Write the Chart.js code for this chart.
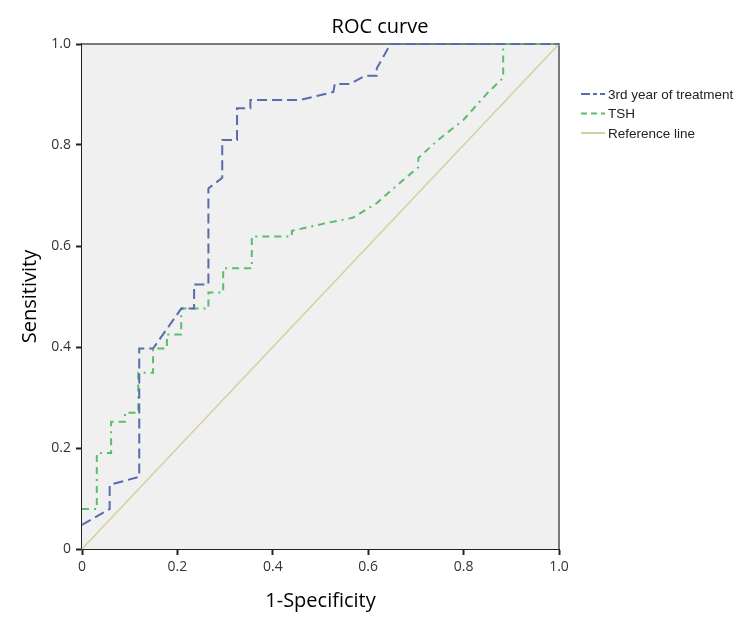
<!DOCTYPE html>
<html>
<head>
<meta charset="utf-8">
<script src="https://cdn.jsdelivr.net/npm/chart.js@4/dist/chart.umd.min.js"></script>
<style>
  html, body { margin: 0; padding: 0; background: #fff; }
  #wrap { width: 750px; height: 633px; }
</style>
</head>
<body>
<div id="wrap"><canvas id="chart" width="750" height="633"></canvas></div>
<script>
// ROC curve points (1-specificity, sensitivity)
let yearX = [0, 0.058, 0.058, 0.12, 0.12, 0.149, 0.208, 0.235, 0.235, 0.265, 0.265, 0.294, 0.294, 0.325, 0.325, 0.353, 0.353, 0.457, 0.527, 0.53, 0.562, 0.593, 0.618, 0.618, 0.647, 1];
let yearY = [0.048, 0.079, 0.127, 0.143, 0.397, 0.397, 0.476, 0.476, 0.524, 0.524, 0.714, 0.735, 0.81, 0.81, 0.873, 0.873, 0.889, 0.889, 0.905, 0.921, 0.921, 0.937, 0.937, 0.952, 1, 1];

let tshX = [0, 0.031, 0.031, 0.061, 0.061, 0.09, 0.09, 0.118, 0.118, 0.149, 0.149, 0.178, 0.178, 0.208, 0.208, 0.265, 0.265, 0.296, 0.296, 0.356, 0.356, 0.44, 0.44, 0.51, 0.568, 0.618, 0.66, 0.705, 0.705, 0.744, 0.8, 0.85, 0.883, 0.883, 1];
let tshY = [0.079, 0.079, 0.19, 0.19, 0.252, 0.252, 0.27, 0.27, 0.349, 0.349, 0.397, 0.397, 0.425, 0.425, 0.476, 0.476, 0.508, 0.508, 0.556, 0.556, 0.619, 0.619, 0.63, 0.645, 0.656, 0.685, 0.72, 0.756, 0.774, 0.808, 0.85, 0.903, 0.933, 1, 1];

let refX = [0, 1];
let refY = [0, 1];

let seriesNames = ['3rd year of treatment', 'TSH', 'Reference line'];
let tickValues = [0, 0.2, 0.4, 0.6, 0.8, 1.0];

function pts(xs, ys) {
    return xs.map((x, i) => ({ x: x, y: ys[i] }));
}

function tickLabel(v) {
    return v === 0 ? '0' : v.toFixed(1);
}

// plot background, frame, title and legend
let decor = {
    id: 'decor',
    beforeDatasetsDraw(chart) {
        let a = chart.chartArea;
        let c = chart.ctx;
        c.save();
        c.fillStyle = '#f0f0f0';
        c.fillRect(a.left, a.top, a.right - a.left, a.bottom - a.top);
        c.strokeStyle = '#7a7a7a';
        c.lineWidth = 2;
        c.beginPath();
        c.moveTo(a.left, a.top);
        c.lineTo(a.right, a.top);
        c.lineTo(a.right, a.bottom);
        c.stroke();
        c.restore();
    },
    afterDraw(chart) {
        let c = chart.ctx;
        c.save();
        c.fillStyle = '#000';
        c.font = '20px "Open Sans"';
        c.textAlign = 'center';
        c.textBaseline = 'middle';
        c.fillText('ROC curve', 380, 27);

        c.font = '13.5px "Liberation Sans"';
        c.textAlign = 'left';
        chart.data.datasets.forEach((ds, i) => {
            let y = 94 + i * 19.5;
            c.strokeStyle = ds.borderColor;
            c.lineWidth = 2;
            c.setLineDash(ds.legendDash || []);
            c.beginPath();
            c.moveTo(581, y);
            c.lineTo(605, y);
            c.stroke();
            c.setLineDash([]);
            c.fillStyle = '#222';
            c.fillText(ds.label, 608, y + 1);
        });
        c.restore();
    }
};

let ctx = document.getElementById('chart').getContext('2d');
let chart = new Chart(ctx, {
    type: 'scatter',
    data: {
        datasets: [
            {
                label: seriesNames[0],
                data: pts(yearX, yearY),
                showLine: true,
                borderColor: '#5a6cab',
                borderWidth: 2,
                borderDash: [10, 5],
                legendDash: [9, 3, 4, 3],
                pointRadius: 0,
                clip: 4
            },
            {
                label: seriesNames[1],
                data: pts(tshX, tshY),
                showLine: true,
                borderColor: '#5bbd6c',
                borderWidth: 2,
                borderDash: [7, 5, 2, 5, 7, 5],
                legendDash: [6, 4],
                pointRadius: 0,
                clip: 4
            },
            {
                label: seriesNames[2],
                data: pts(refX, refY),
                showLine: true,
                borderColor: '#d6d0a0',
                borderWidth: 1.5,
                pointRadius: 0,
                clip: 4
            }
        ]
    },
    options: {
        responsive: false,
        animation: false,
        layout: { padding: { left: 0, right: 191, top: 44, bottom: 0 } },
        plugins: {
            legend: { display: false },
            title: { display: false },
            tooltip: { enabled: false }
        },
        scales: {
            x: {
                type: 'linear',
                min: 0,
                max: 1,
                afterFit(s) { s.height = 84; },
                afterBuildTicks(s) { s.ticks = tickValues.map(v => ({ value: v })); },
                ticks: {
                    callback: tickLabel,
                    color: '#333',
                    font: { family: 'Open Sans', size: 14 },
                    padding: 4,
                    maxRotation: 0
                },
                grid: { drawOnChartArea: false, tickLength: 6, tickColor: '#222', tickWidth: 2 },
                border: { display: true, color: '#222', width: 2 },
                title: {
                    display: true,
                    text: '1-Specificity',
                    color: '#000',
                    font: { family: 'Open Sans', size: 20 },
                    padding: { top: 0, bottom: 20 }
                }
            },
            y: {
                type: 'linear',
                min: 0,
                max: 1,
                afterFit(s) { s.width = 82; },
                afterBuildTicks(s) { s.ticks = tickValues.map(v => ({ value: v })); },
                ticks: {
                    callback: tickLabel,
                    color: '#333',
                    font: { family: 'Open Sans', size: 14 },
                    padding: 5
                },
                grid: { drawOnChartArea: false, tickLength: 6, tickColor: '#222', tickWidth: 2 },
                border: { display: true, color: '#222', width: 2 },
                title: {
                    display: true,
                    text: 'Sensitivity',
                    color: '#000',
                    font: { family: 'Open Sans', size: 20 },
                    padding: { top: 18, bottom: 0 }
                }
            }
        }
    },
    plugins: [decor]
});
</script>
</body>
</html>
